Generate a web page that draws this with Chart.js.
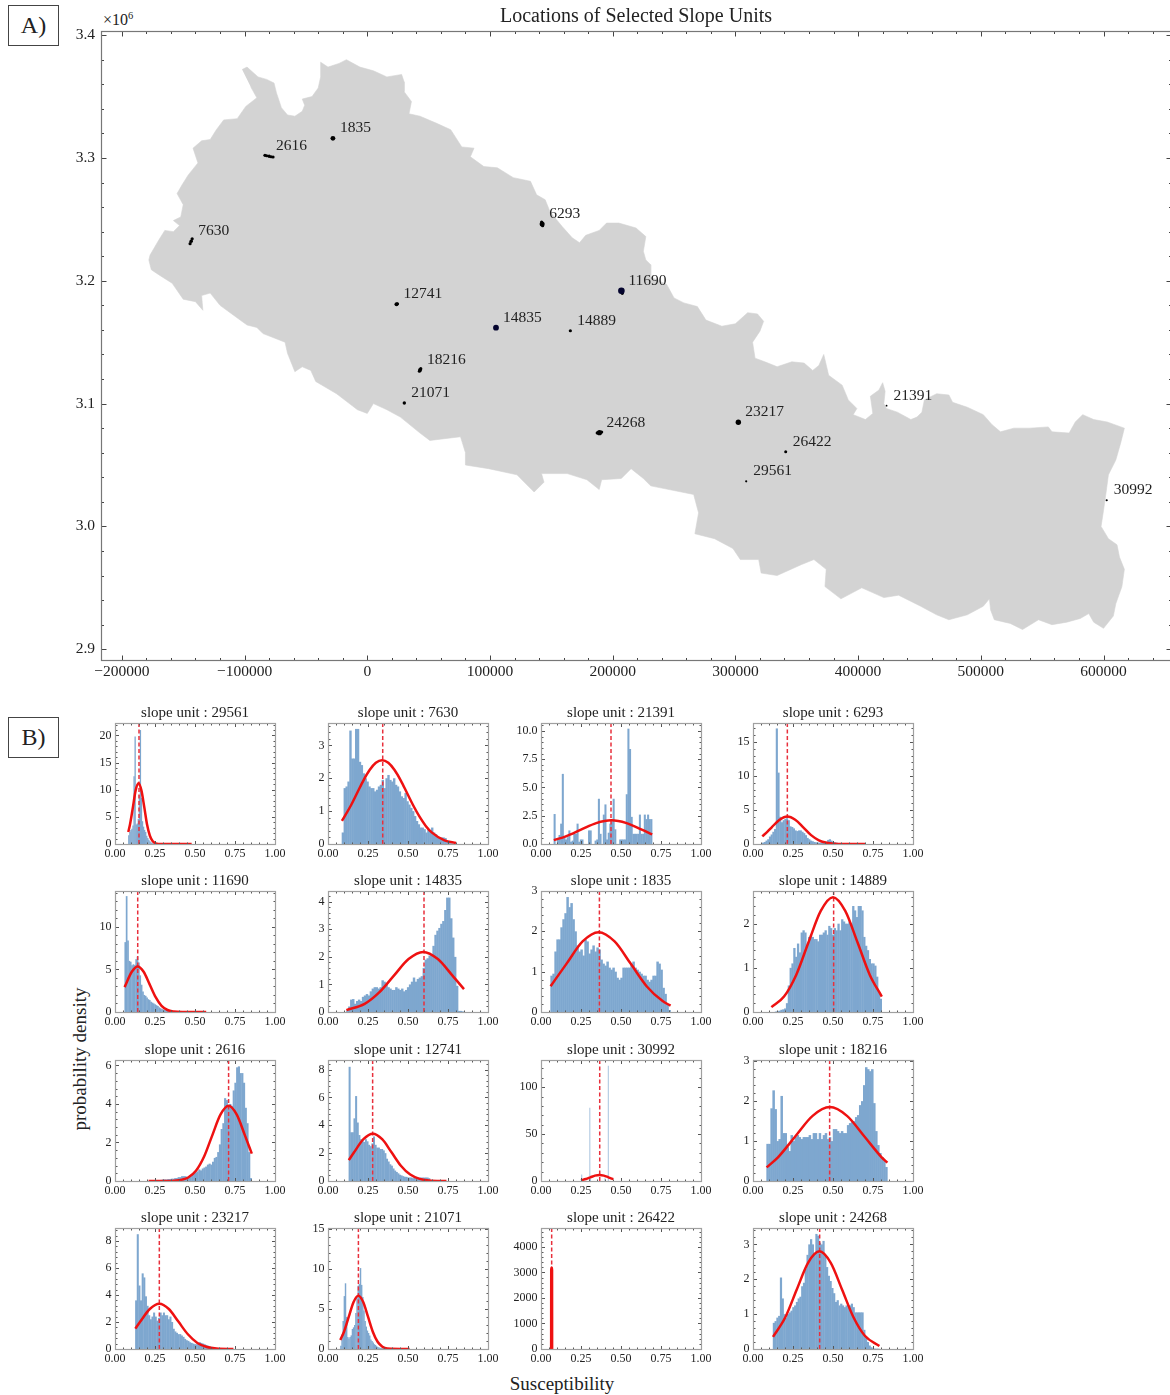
<!DOCTYPE html>
<html><head><meta charset="utf-8">
<style>
html,body{margin:0;padding:0;background:#fff;overflow:hidden;width:1170px;height:1395px}
canvas{position:absolute}
.txt{position:absolute;font-family:'Liberation Serif',serif;color:#222;white-space:nowrap}
.box{position:absolute;left:8px;width:49px;height:39px;border:1.4px solid #444;font-family:'Liberation Serif',serif;font-size:24px;color:#222;text-align:center;line-height:39px}
</style>
<script src="https://cdn.jsdelivr.net/npm/chart.js@4"></script>
</head><body>
<div class="box" style="top:5px">A)</div>
<div class="box" style="top:717px">B)</div>
<div class="txt" style="left:103px;top:11px;font-size:16px">×10<sup style="font-size:10.5px;line-height:0">6</sup></div>
<div class="txt" style="left:80px;top:1059px;font-size:19px;transform:translate(-50%,-50%) rotate(-90deg)">probability density</div>
<div class="txt" style="left:562px;top:1384px;font-size:19px;transform:translate(-50%,-50%)">Susceptibility</div>
<script>
// ---------- map data (km, UTM-like coordinates) ----------
const outlineXkm = [-102,-98,-89,-82,-76,-74,-72,-70,-65,-59,-53,-51,-53,-45,-40,-38,-38,-32,-23,-17,-6,5,16,28,30,30,36,34,43,57,68,77,87,84,95,106,119,133,138,145,149,159,167,173,178,189,195,205,219,227,225,227,231,231,244,250,258,269,276,289,300,310,318,323,320,314,316,324,334,346,356,363,368,372,376,387,392,399,396,406,412,410,417,420,422,421,423,432,443,448,452,454,464,474,477,489,502,509,516,527,540,555,558,572,577,583,592,603,617,614,610,604,602,600,598,604,611,613,617,615,610,608,600,592,588,581,570,558,547,534,524,511,508,507,502,489,474,464,451,433,421,403,386,373,374,364,354,334,321,319,304,298,283,267,270,266,231,225,215,207,191,189,179,163,142,144,136,130,122,99,80,80,76,51,43,27,16,5,0,-8,-25,-42,-46,-53,-59,-65,-67,-85,-90,-98,-109,-120,-128,-135,-134,-140,-150,-159,-170,-176,-178,-177,-170,-165,-158,-153,-158,-152,-150,-155,-151,-146,-138,-142,-135,-128,-123,-117,-106,-99,-90,-95];
const outlineYkm = [3372,3374,3366,3364,3361,3353,3347,3341,3335,3334,3338,3343,3348,3350,3357,3366,3378,3374,3377,3380,3374,3371,3366,3368,3362,3354,3346,3336,3334,3328,3323,3309,3308,3301,3293,3292,3284,3281,3270,3266,3256,3244,3235,3231,3237,3241,3247,3247,3243,3236,3224,3217,3213,3203,3197,3186,3182,3179,3168,3163,3165,3174,3173,3167,3159,3150,3137,3134,3130,3134,3133,3127,3131,3140,3123,3115,3103,3096,3091,3087,3092,3106,3111,3117,3110,3100,3096,3093,3087,3089,3093,3103,3108,3107,3101,3097,3091,3083,3077,3080,3080,3081,3077,3076,3085,3091,3087,3085,3080,3068,3054,3042,3027,3013,3000,2990,2985,2975,2965,2951,2937,2927,2917,2922,2929,2925,2922,2920,2924,2916,2921,2924,2932,2941,2935,2928,2924,2928,2935,2944,2942,2950,2941,2951,2965,2973,2969,2960,2962,2973,2973,2982,2990,2994,3011,3026,3033,3039,3047,3039,3038,3030,3038,3043,3043,3036,3028,3034,3042,3047,3050,3060,3073,3070,3076,3089,3095,3100,3092,3095,3108,3118,3127,3130,3126,3141,3150,3157,3162,3164,3172,3180,3190,3188,3176,3183,3185,3198,3205,3209,3217,3221,3233,3241,3240,3245,3249,3252,3262,3271,3278,3286,3296,3308,3314,3315,3323,3331,3332,3342,3349,3358];
const siteIds = ["7630","2616","1835","6293","12741","14835","14889","11690","18216","21071","24268","23217","26422","29561","21391","30992"];
const siteXkm = [-143.5,-80,-28,142.5,23.8,104.9,165.5,207.1,43,30.2,189.2,302.4,341,308.8,423.2,602.6];
const siteYkm = [3232.2,3301.4,3316,3246.3,3180.9,3161.8,3159.3,3191.9,3127.4,3100.5,3076.3,3084.8,3060.8,3036.7,3098.3,3021.3];
const siteRadius = [1.8,1.7,2.4,2.5,2,2.9,1.6,3.3,2,1.7,2.6,2.7,1.5,1.1,0.9,1.1];
const siteColors = ["#000","#000","#000","#000","#000","#04042e","#000","#04042e","#000","#000","#000","#000","#000","#000","#000","#000"];
const blobXkm = [-144.4,-142.7,-83.4,-82,-78.4,-76.8,187.4,191,207.8,142.1,142.9,42.5,43.6,24.6];
const blobYkm = [3230.2,3234.2,3302.2,3301.8,3301,3300.8,3076.1,3076.8,3189.8,3247.8,3244.8,3126.4,3128.4,3181.3];
const mapTitle = "Locations of Selected Slope Units";
const mapXRange = [-217000,655000], mapYRange = [2891200,3403400];
const mapTickStep = 20000, mapTickMajor = 100000;

// ---------- histogram panels (density per bin) ----------
const hist_29561 = [1.6,2.2,2.6,2.8,3.4,12.5,19.8,3.6,3.8,4.6,9,21,8.5,4.2,3.2,2.6,2.2,1.5,1.1,.8,.5,.3,.2,.1,.05,.04,.03,.03,.02,.02,.02,.02,.02,.01,.01,.01,.01,.01,.01,.01,.01,.01,.01,.01,.01,.01,.01,.01,.01,.01,.01,.01,0,0,0,0,0,0,0,.01];
const hist_7630 = [.35,1.7,1.75,1.9,3.45,2.6,2.6,3.5,3.5,2.5,2.4,2.15,2,1.9,1.75,1.7,1.7,1.6,1.65,1.75,1.8,1.95,1.7,2,2.1,1.95,1.9,2,1.8,1.75,1.6,1.45,1.4,1.55,1.3,1.2,1.1,1,.85,.7,.6,.5,.5,.45,.35,.45,.4,.5,.35,.3,.2,.17,.2,.2,.18,.08,.03,.02,.01,.01];
const hist_21391 = [2.65,0,.5,.8,1.8,6.2,.6,.4,.6,1.2,.2,.3,.9,.9,1.8,.2,.4,.4,0,0,0,1.2,1.2,0,0,.3,.4,4,.9,0,2.6,3.5,.4,1,1.8,2,4,1.3,0,0,.4,.4,.4,.4,4.4,10.2,8.4,2.4,.9,.9,.9,.9,2.6,.9,.9,2.6,2.2,2.6,2.2,2.2];
const hist_6293 = [.2,.3,.5,.7,1.1,1.4,1.8,2.2,17,10.5,4,3.2,3.5,3.7,3.8,3.5,2.6,2.5,2.3,2,1.9,2,2,1.8,1.6,1.3,.9,.7,.5,.4,.3,.25,.2,.2,.2,.15,.2,.3,.6,.7,.5,.3,.25,.2,.1,.08,.06,.05,.05,.04,.04,.03,.03,.02,.02,.02,.01,.01,.01,.01];
const hist_11690 = [8.2,13.6,8.4,6,5.9,5.5,5.6,5.5,6.2,6.5,5.8,4.3,3.2,2.4,2,1.9,1.7,1.5,1.4,1.2,1.1,1,.9,.8,.7,.55,.45,.35,.3,.25,.2,.15,.1,.1,.08,.06,.05,.05,.04,.03,.03,.02,.02,.02,.01,.01,.01,.01,.01,.01,.01,.01,.01,.01,0,0,0,0,0,.01];
const hist_14835 = [.05,.2,.45,.47,.3,.4,.45,.4,.55,.6,.65,.6,.75,.85,.9,.9,.85,.9,1.15,1.1,1.05,.9,.85,.8,.8,.9,.85,.8,.85,.75,.8,.9,1,1.1,1.25,1.1,1.2,1.25,1.3,1.6,1.9,1.95,2.05,2.1,2.4,2.8,2.95,3.05,3.2,3.3,3.7,4.15,4.15,3.4,2.7,2,.95,.04,.04,.02];
const hist_1835 = [.9,.95,1.5,1.8,1.8,2.1,2.3,2.45,2.85,2.6,2.7,2.3,2,1.65,1.5,1.55,1.4,1.8,1.75,1.45,1.55,1.65,1.5,1.6,1.55,1.3,1.2,1.15,1.25,1.1,1.05,1.1,1,.85,.8,.85,1.1,1.1,1.1,1.1,1.2,1.25,1.1,1.05,1,.95,.9,.9,.8,.75,.8,.9,.9,1.25,1.2,1.05,.6,.45,.2,.05];
const hist_14889 = [0,0,.01,.02,.03,.05,.06,.08,.2,.6,1,1.1,1.45,1.25,1.55,1.35,1.8,1.85,1.8,1.5,1.7,1.75,1.7,1.65,1.65,1.6,1.75,1.75,1.8,1.85,1.75,1.95,1.9,1.75,1.9,1.85,2,1.85,2.1,2.05,2,2,2.05,2,2.4,2.3,2.15,2.4,2.4,2.3,1.7,1.5,1.4,1.2,1.1,1.1,1.05,.8,.45,.3];
const hist_2616 = [0,.02,.03,.04,.05,.05,.05,.06,.08,.08,.08,.1,.1,.12,.12,.15,.15,.2,.2,.25,.25,.25,.2,.25,.3,.35,.4,.45,.5,.6,.55,.65,.7,.75,.85,.9,.85,1,1.2,1.25,1.5,1.9,2.7,3,4.3,4.2,3.9,4,3.9,4.7,5.1,5.9,5.95,5.6,5.6,5.1,3.8,3,1.5,.15];
const hist_12741 = [8.2,3.5,3.5,4.5,6.1,4.2,3.3,3,2.9,2.8,3,2.85,2.6,2.5,2.7,3.2,2.6,2.4,2.4,2.3,2.3,2.2,2,1.6,1.4,1.2,1.1,.9,.75,.65,.55,.45,.4,.35,.3,.3,.25,.25,.25,.2,.25,.25,.25,.25,.25,.25,.25,.25,.25,.2,.01,.01,.01,0,0,0,0,0,0,.01];
const hist_30992 = [1,7,0,0,0,0,0,0,0,0,0,0,0,0,0,2,78,2,0,0,0,0,0,0,0,0,0,0,0,0,0,0,0,0,0,0,0,0,0,0,0,0,0,0,3,0,0,0,0,0,123,0,0,0,0,0,0,0,0,0];
const hist_18216 = [.93,.93,1.82,2.27,1.8,1,1.05,2.13,1.2,1.2,.85,.75,1.15,1,1.1,1.15,1.1,1.05,1.1,1.1,1.1,1.15,1.05,1.2,1.2,1.05,1.2,1.05,1.15,1.2,1.05,1.1,1,1.3,1.3,1.25,1.2,1.25,1.2,1.2,1.4,1.45,1.5,1.5,1.6,1.65,1.9,2,2.4,2.85,2.8,2.75,2.8,1.95,1.25,.9,.7,.6,.5,.35];
const hist_23217 = [3.6,8.5,4.7,3.6,5.6,5.3,3.9,3.2,2.5,2.2,2.4,2.7,2.4,2.1,2.3,2.7,2.5,2.7,2.5,2.5,2.2,2.4,2,1.5,1.3,1.2,1.1,1.1,1,.9,.75,.65,.6,.5,.45,.4,.35,.35,.45,.5,.45,.4,.35,.3,.25,.2,.15,.1,.08,.05,.03,.03,.02,.02,.01,.01,0,0,0,.01];
const hist_21071 = [.4,1.8,3.5,6.6,8.2,4,1.5,1.3,1.5,1.7,2.5,2.7,3,4.5,6.3,7.9,8.1,10.1,8,6.5,4.8,3.5,2.8,2.3,2,1.7,1.2,1,.8,.6,.5,.35,.25,.2,.15,.1,.08,.06,.05,.05,.04,.04,.03,.03,.03,.02,.02,.02,.02,.01,.01,.01,.01,.01,.01,.01,.01,.01,0,.01];
const hist_26422 = [800,3200,3200,700];
const hist_24268 = [.75,.8,.9,.95,2.05,1.45,1,.9,1,1.05,1.1,1.2,1.25,1.35,1.45,1.5,1.8,1.9,2.3,2.7,3,3.15,3,2.75,3.3,3.25,3.05,3,3.1,2.7,2.35,2.1,1.95,1.75,1.6,1.35,1.4,1.25,1.3,1.25,1.2,1.25,1.25,1.25,1.3,1.2,1.05,1.05,1.05,1.05,1.05,.55,.35,.2,.1,.05,.02,.01,.01,.01];

// ---------- red fitted curves ----------
const curveX_29561 = [.083,.094,.112,.129,.147,.165,.183,.2,.218,.236,.254,.271,.32,.4,.479];
const curveY_29561 = [2.2,3.64,6.79,9.88,11.2,9.88,6.79,3.64,1.52,.49,.12,.02,0,0,0];
const curveX_7630 = [.087,.143,.182,.221,.26,.299,.338,.377,.416,.455,.494,.533,.572,.611,.65,.728,.8];
const curveY_7630 = [.7,1.17,1.55,1.93,2.25,2.47,2.55,2.47,2.25,1.93,1.55,1.17,.83,.55,.345,.11,.03];
const curveX_21391 = [.08,.155,.25,.345,.44,.535,.63,.695];
const curveY_21391 = [.34,.68,1.27,1.85,2.1,1.85,1.27,.85];
const curveX_6293 = [.058,.092,.117,.166,.215,.264,.314,.363,.412,.461,.51,.56,.7];
const curveY_6293 = [1.13,1.85,2.46,3.57,4.05,3.57,2.46,1.31,.55,.18,.045,.01,0];
const curveX_11690 = [.06,.105,.142,.179,.2165,.254,.291,.328,.3655,.42,.57];
const curveY_11690 = [2.92,4.72,5.35,4.72,3.24,1.74,.72,.235,.06,.005,0];
const curveX_14835 = [.115,.229,.32,.412,.5035,.595,.6865,.778,.85];
const curveY_14835 = [.07,.295,.71,1.32,1.92,2.18,1.92,1.32,.83];
const curveX_1835 = [.06,.16,.26,.36,.46,.56,.66,.76,.81];
const curveY_1835 = [.64,1.2,1.75,1.98,1.75,1.2,.64,.27,.157];
const curveX_14889 = [.115,.194,.27,.347,.4235,.5,.5765,.653,.73,.805];
const curveY_14889 = [.11,.35,.84,1.58,2.29,2.6,2.29,1.58,.84,.35];
const curveX_2616 = [.21,.3,.37,.42,.455,.506,.557,.608,.659,.71,.761,.812,.855];
const curveY_2616 = [0,0,.015,.07,.17,.53,1.27,2.37,3.44,3.9,3.44,2.37,1.42];
const curveX_12741 = [.13,.163,.2215,.28,.3385,.397,.4555,.514,.5725,.631,.74];
const curveY_12741 = [1.5,2.06,3,3.4,3,2.06,1.1,.46,.15,.04,0];
const curveX_30992 = [.25,.281,.309,.337,.365,.393,.421,.452];
const curveY_30992 = [.8,2.1,3.94,5.74,6.5,5.74,3.94,1.95];
const curveX_18216 = [.085,.1575,.265,.3725,.48,.5875,.695,.8025,.84];
const curveY_18216 = [.34,.6,1.12,1.63,1.85,1.63,1.12,.6,.46];
const curveX_23217 = [.127,.158,.2175,.277,.3365,.396,.4555,.515,.5745,.634,.74];
const curveY_23217 = [1.51,2.03,2.96,3.35,2.96,2.03,1.09,.45,.147,.037,0];
const curveX_21071 = [.077,.1,.13,.16,.19,.22,.25,.28,.31,.34,.37,.51];
const curveY_21071 = [1.13,2.16,4.03,5.87,6.65,5.87,4.03,2.16,.9,.29,.07,0];
const curveX_26422 = [.0635,.064,.0665,.069,.0695];
const curveY_26422 = [0,3100,3200,3100,0];
const curveX_24268 = [.125,.202,.273,.344,.415,.486,.557,.628,.699,.79];
const curveY_24268 = [.35,.91,1.7,2.47,2.8,2.47,1.7,.91,.38,.087];

// ---------- per-panel tables, in reading order ----------
const panelIds   = [29561,7630,21391,6293,11690,14835,1835,14889,2616,12741,30992,18216,23217,21071,26422,24268];
const panelHists = [hist_29561,hist_7630,hist_21391,hist_6293,hist_11690,hist_14835,hist_1835,hist_14889,hist_2616,hist_12741,hist_30992,hist_18216,hist_23217,hist_21071,hist_26422,hist_24268];
const panelCX    = [curveX_29561,curveX_7630,curveX_21391,curveX_6293,curveX_11690,curveX_14835,curveX_1835,curveX_14889,curveX_2616,curveX_12741,curveX_30992,curveX_18216,curveX_23217,curveX_21071,curveX_26422,curveX_24268];
const panelCY    = [curveY_29561,curveY_7630,curveY_21391,curveY_6293,curveY_11690,curveY_14835,curveY_1835,curveY_14889,curveY_2616,curveY_12741,curveY_30992,curveY_18216,curveY_23217,curveY_21071,curveY_26422,curveY_24268];
const histMin    = [.083,.087,.08,.058,.06,.115,.06,.115,.21,.13,.25,.085,.127,.077,.06,.125];
const histMax    = [.479,.8,.695,.7,.57,.85,.81,.805,.855,.74,.452,.84,.74,.51,.072,.79];
const meanValue  = [.15,.342,.4375,.2146,.142,.6,.365,.504,.71,.279,.367,.479,.277,.19,.0667,.4167];
const yMaxes     = [22.3,3.68,10.7,17.8,14.2,4.39,3.0,2.74,6.28,8.69,129,3.03,8.96,15.1,4745,3.47];
const yMajors    = [5,1,2.5,5,5,1,1,1,2,2,50,1,2,5,1000,1];
const yMinors    = [1,.2,.5,1,1,.2,.2,.2,.4,.4,10,.2,.4,1,200,.2];
const yDecimals  = [0,0,1,0,0,0,0,0,0,0,0,0,0,0,0,0];
const xTickMajor = .25, xTickMinor = .05;

const FONT = "'Liberation Serif', serif";
const isMult = (v,m)=>Math.abs(v/m-Math.round(v/m))<1e-6;

const frameTicks = {
  id:'frameTicks',
  afterDraw(chart,args,o){
    const {ctx,chartArea:a,scales:{x,y}}=chart;
    const L=Math.round(a.left)+.5,R=Math.round(a.right)+.5,T=Math.round(a.top)+.5,B=Math.round(a.bottom)+.5;
    ctx.save();
    ctx.strokeStyle=o.tickColor;ctx.lineWidth=1;ctx.beginPath();
    x.ticks.forEach(t=>{
      const p=Math.round(x.getPixelForValue(t.value))+.5,n=isMult(t.value,o.xMajor)?o.major:o.minor;
      ctx.moveTo(p,B);ctx.lineTo(p,B-n);ctx.moveTo(p,T);ctx.lineTo(p,T+n);
    });
    y.ticks.forEach(t=>{
      const p=Math.round(y.getPixelForValue(t.value))+.5,n=isMult(t.value,o.yMajor)?o.major:o.minor;
      ctx.moveTo(L,p);ctx.lineTo(L+n,p);ctx.moveTo(R,p);ctx.lineTo(R-n,p);
    });
    ctx.stroke();
    ctx.strokeStyle=o.spineColor;ctx.lineWidth=o.spineWidth;
    ctx.strokeRect(L,T,R-L,B-T);
    ctx.restore();
  }
};
const siteLabels = {
  id:'siteLabels',
  afterDatasetsDraw(chart){
    const {ctx,scales:{x,y}}=chart;
    ctx.save();
    ctx.font="15.5px "+FONT;ctx.fillStyle='#222';ctx.textBaseline='middle';ctx.textAlign='left';
    siteIds.forEach((id,i)=>{
      ctx.fillText(id,x.getPixelForValue(siteXkm[i]*1000)+7,y.getPixelForValue(siteYkm[i]*1000)-10);
    });
    ctx.restore();
  }
};
function addCanvas(left,top,w,h){
  const c=document.createElement('canvas');
  c.width=w;c.height=h;c.style.left=left+'px';c.style.top=top+'px';
  c.style.width=w+'px';c.style.height=h+'px';
  document.body.appendChild(c);
  return c.getContext('2d');
}
function fixedWidth(w){return s=>{s.width=w;s.paddingTop=s.paddingBottom=0;};}
function fixedHeight(h){return s=>{s.height=h;s.paddingLeft=s.paddingRight=0;};}
function mapTicks(s){
  const t=[];
  for(let v=Math.ceil(s.min/mapTickStep)*mapTickStep;v<=s.max;v+=mapTickStep) t.push({value:v});
  s.ticks=t;
}

// ---------- panel A: map ----------
(function(){
  const toPts=(xs,ys)=>xs.map((v,i)=>({x:v*1000,y:ys[i]*1000}));
  const leftW=101,botH=36,rightPad=9;
  new Chart(addCanvas(0,0,1180,696),{
    type:'scatter',
    data:{datasets:[
      {data:toPts(outlineXkm,outlineYkm),showLine:true,fill:'shape',backgroundColor:'#d3d3d3',borderColor:'#d3d3d3',borderWidth:.6,pointRadius:0,tension:0,order:3},
      {data:toPts(blobXkm,blobYkm),showLine:false,pointRadius:1.6,pointBackgroundColor:'#000',pointBorderWidth:0,order:2},
      {data:toPts(siteXkm,siteYkm),showLine:false,pointRadius:siteRadius,pointBackgroundColor:siteColors,pointBorderWidth:0,order:1}
    ]},
    options:{
      responsive:false,animation:false,
      layout:{padding:{left:0,top:0,right:rightPad,bottom:0}},
      plugins:{
        legend:{display:false},tooltip:{enabled:false},
        title:{display:true,text:mapTitle,fullSize:false,color:'#222',font:{family:FONT,size:20,weight:'normal',lineHeight:1.2},padding:{top:5,bottom:2}},
        frameTicks:{tickColor:'#444',spineColor:'#777',spineWidth:1.2,major:5,minor:2.5,xMajor:mapTickMajor,yMajor:mapTickMajor}
      },
      scales:{
        x:{type:'linear',bounds:'data',min:mapXRange[0],max:mapXRange[1],grid:{display:false,drawTicks:false},border:{display:false},afterFit:fixedHeight(botH),afterBuildTicks:mapTicks,
           ticks:{stepSize:mapTickStep,includeBounds:false,autoSkip:false,maxRotation:0,minRotation:0,padding:3,color:'#222',font:{family:FONT,size:15.5},
             callback:v=>isMult(v,mapTickMajor)?String(v).replace('-','\u2212'):''}},
        y:{type:'linear',bounds:'data',min:mapYRange[0],max:mapYRange[1],grid:{display:false,drawTicks:false},border:{display:false},afterFit:fixedWidth(leftW),afterBuildTicks:mapTicks,
           ticks:{stepSize:mapTickStep,includeBounds:false,autoSkip:false,padding:6,color:'#222',font:{family:FONT,size:15.5},
             callback:v=>isMult(v,mapTickMajor)?(v/1e6).toFixed(1):''}}
      }
    },
    plugins:[frameTicks,siteLabels]
  });
})();

// ---------- panel B: 16 histograms ----------
const colLeft=[115,328,541,753], rowTop=[723,891,1060,1228], plotW=160, plotH=121;
panelIds.forEach((id,k)=>{
  const L=colLeft[k%4],T=rowTop[Math.floor(k/4)];
  const hist=panelHists[k],padL=50,padT=20,padB=24,padR=16;
  const bins=hist===hist_26422?hist.length:60;
  const w=(histMax[k]-histMin[k])/bins;
  const bars=hist.map((v,i)=>({x:histMin[k]+(i+.5)*w,y:v}));
  const curve=panelCX[k].map((v,i)=>({x:v,y:panelCY[k][i]}));
  const dash=[{x:meanValue[k],y:0},{x:meanValue[k],y:yMaxes[k]}];
  const fs=15,lh=fs*1.2;
  new Chart(addCanvas(L-padL,T-padT,plotW+padL+padR,plotH+padT+padB),{
    type:'bar',
    data:{datasets:[
      {type:'bar',data:bars,backgroundColor:'#7ea7cf',borderWidth:0,barPercentage:1.25,categoryPercentage:1,order:3},
      {type:'line',data:dash,borderColor:'#e8303c',borderWidth:1.5,borderDash:[4,2.5],pointRadius:0,fill:false,order:2},
      {type:'line',data:curve,borderColor:'#ee1111',borderWidth:2.5,pointRadius:0,fill:false,cubicInterpolationMode:'monotone',order:1}
    ]},
    options:{
      responsive:false,animation:false,
      layout:{padding:{left:0,top:0,right:padR,bottom:0}},
      plugins:{
        legend:{display:false},tooltip:{enabled:false},
        title:{display:true,text:'slope unit : '+id,fullSize:false,color:'#222',font:{family:FONT,size:fs,weight:'normal',lineHeight:1.2},padding:{top:1,bottom:padT-lh-1}},
        frameTicks:{tickColor:'#555',spineColor:'#a0a0a0',spineWidth:1.2,major:3.5,minor:2,xMajor:xTickMajor,yMajor:yMajors[k]}
      },
      scales:{
        x:{type:'linear',bounds:'data',offset:false,min:0,max:1,grid:{display:false,drawTicks:false},border:{display:false},afterFit:fixedHeight(padB),
           ticks:{stepSize:xTickMinor,includeBounds:false,autoSkip:false,maxRotation:0,minRotation:0,padding:3,color:'#222',font:{family:FONT,size:12},
             callback:v=>isMult(v,xTickMajor)?v.toFixed(2):''}},
        y:{type:'linear',bounds:'data',min:0,max:yMaxes[k],grid:{display:false,drawTicks:false},border:{display:false},afterFit:fixedWidth(padL),
           ticks:{stepSize:yMinors[k],includeBounds:false,autoSkip:false,padding:3.5,color:'#222',font:{family:FONT,size:12},
             callback:v=>isMult(v,yMajors[k])?v.toFixed(yDecimals[k]):''}}
      }
    },
    plugins:[frameTicks]
  });
});
</script>
</body></html>
